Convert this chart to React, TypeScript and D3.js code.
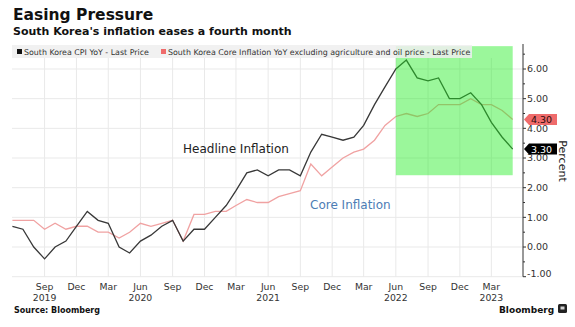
import React from "react";
import * as d3 from "d3";

const W = 575;
const H = 327;

// Monthly data Jun 2019 .. May 2023
const startMonth = new Date(2019, 5, 1);
const headlineCPI = [
  0.7, 0.6, 0.0, -0.4, 0.0, 0.2, 0.7,
  1.2, 0.9, 0.8, 0.0, -0.2, 0.2, 0.4, 0.7, 0.9, 0.2, 0.6, 0.6,
  1.0, 1.4, 1.9, 2.5, 2.6, 2.4, 2.6, 2.6, 2.4, 3.2, 3.8, 3.7,
  3.6, 3.7, 4.1, 4.8, 5.4, 6.0, 6.3, 5.7, 5.6, 5.7, 5.0, 5.0,
  5.2, 4.8, 4.2, 3.7, 3.3,
];
const coreInflation = [
  0.9, 0.9, 0.9, 0.6, 0.8, 0.6, 0.7,
  0.7, 0.5, 0.5, 0.3, 0.5, 0.8, 0.7, 0.8, 0.9, 0.2, 1.1, 1.1,
  1.2, 1.2, 1.4, 1.6, 1.5, 1.5, 1.7, 1.8, 1.9, 2.8, 2.4, 2.7,
  3.0, 3.2, 3.3, 3.6, 4.1, 4.4, 4.5, 4.4, 4.5, 4.8, 4.8, 4.8,
  5.0, 4.8, 4.8, 4.6, 4.3,
];
const yTicks = [-1, 0, 1, 2, 3, 4, 5, 6];
const yMinorTicks = [-0.5, 0.5, 1.5, 2.5, 3.5, 4.5, 5.5, 6.5];
const monthTickNames = ["Mar", "Jun", "Sep", "Dec"];
const yearLabels = [
  { label: "2019", date: new Date(2019, 8, 1) },
  { label: "2020", date: new Date(2020, 5, 1) },
  { label: "2021", date: new Date(2021, 5, 1) },
  { label: "2022", date: new Date(2022, 5, 1) },
  { label: "2023", date: new Date(2023, 2, 1) },
];
const highlight = { from: new Date(2022, 5, 1), to: new Date(2023, 4, 1), low: 2.42, high: 6.77 };
const legendItems = [
  "South Korea CPI YoY - Last Price",
  "South Korea Core Inflation YoY excluding agriculture and oil price - Last Price",
];

const FONT = "'DejaVu Sans', Verdana, sans-serif";
const BLACK_LINE = "#383838";
const PINK_LINE = "#f0a2a2";
const PINK_TAG = "#ef6b6b";

export default function App() {
  const dates = headlineCPI.map((_, i) => d3.timeMonth.offset(startMonth, i));
  const x = d3
    .scaleTime()
    .domain([dates[0], dates[dates.length - 1]])
    .range([12.4, 512.7]);
  const y = d3.scaleLinear().domain([-1, 6]).range([276.7, 69]);
  const plotLeft = 12;
  const plotRight = 523;
  const plotTop = 44;
  const plotBottom = y(-1);

  const line = d3
    .line<number>()
    .x((_, i) => x(dates[i]))
    .y((v) => y(v));

  const monthTicks = d3
    .timeMonth.range(d3.timeMonth.offset(dates[0], 1), d3.timeMonth.offset(dates[dates.length - 1], 1))
    .filter((d) => d.getMonth() % 3 === 2);

  const lastCore = coreInflation[coreInflation.length - 1];
  const lastCPI = headlineCPI[headlineCPI.length - 1];

  const tag = (v: number, fill: string, textColor: string) => {
    const yy = y(v);
    const x0 = plotRight + 1;
    const p = `M${x0},${yy} L${x0 + 5},${yy - 5.5} L${x0 + 33},${yy - 5.5} L${x0 + 33},${yy + 5.5} L${x0 + 5},${yy + 5.5} Z`;
    return (
      <g>
        <path d={p} fill={fill} />
        <text x={x0 + 7} y={yy + 3.5} fontSize={9.5} fill={textColor} fontFamily={FONT}>
          {v.toFixed(2)}
        </text>
      </g>
    );
  };

  return (
    <svg
      width={W}
      height={H}
      style={{ position: "absolute", left: 0, top: 0, background: "#fff" }}
      fontFamily={FONT}
    >
      <rect x={0} y={0} width={W} height={H} fill="#fff" />
      {/* Titles */}
      <text x={13} y={19.5} fontSize={15.5} fontWeight="bold" fill="#111">
        Easing Pressure
      </text>
      <text x={13} y={35} fontSize={11} fontWeight="bold" fill="#111">
        South Korea's inflation eases a fourth month
      </text>

      {/* Gridlines */}
      {yTicks.map((t) => (
        <line key={"hg" + t} x1={plotLeft} x2={plotRight} y1={y(t)} y2={y(t)} stroke="#e9e9e9" strokeWidth={1} />
      ))}
      {monthTicks.map((d) => (
        <line key={"vg" + d.getTime()} x1={x(d)} x2={x(d)} y1={plotTop + 14} y2={plotBottom} stroke="#e9e9e9" strokeWidth={1} />
      ))}

      {/* Lines */}
      <path d={line(coreInflation) || ""} fill="none" stroke={PINK_LINE} strokeWidth={1.3} />
      <path d={line(headlineCPI) || ""} fill="none" stroke={BLACK_LINE} strokeWidth={1.3} />

      {/* Highlight */}
      <rect
        x={x(highlight.from)}
        y={y(highlight.high)}
        width={x(highlight.to) - x(highlight.from)}
        height={y(highlight.low) - y(highlight.high)}
        fill="#22ee22"
        opacity={0.45}
      />

      {/* Legend */}
      <rect x={12} y={45} width={460} height={13} fill="#efefef" opacity={0.85} />
      <rect x={17} y={49} width={5} height={5} fill="#111" />
      <text x={24} y={54.5} fontSize={7.9} fill="#333">
        {legendItems[0]}
      </text>
      <rect x={161} y={49} width={5} height={5} fill={PINK_TAG} />
      <text x={168} y={54.5} fontSize={7.9} fill="#333">
        {legendItems[1]}
      </text>

      {/* Annotations */}
      <text x={183} y={153} fontSize={12} fill="#222">
        Headline Inflation
      </text>
      <text x={310} y={208.5} fontSize={12} fill="#4d7db5">
        Core Inflation
      </text>

      {/* Right axis */}
      <line x1={plotRight} x2={plotRight} y1={plotTop} y2={plotBottom} stroke="#333" strokeWidth={1} />
      {yTicks.map((t) => (
        <g key={"yt" + t}>
          <line x1={plotRight} x2={plotRight + 3} y1={y(t)} y2={y(t)} stroke="#333" />
          <text
            x={plotRight + 4}
            y={t === -1 ? y(t) : y(t) + 3.4}
            fontSize={9.5}
            fill="#333"
          >
            {t.toFixed(2)}
          </text>
        </g>
      ))}
      {yMinorTicks.map((t) => (
        <line key={"ym" + t} x1={plotRight} x2={plotRight + 2} y1={y(t)} y2={y(t)} stroke="#333" />
      ))}
      {tag(lastCore, PINK_TAG, "#2a0a0a")}
      {tag(lastCPI, "#000", "#fff")}
      <text
        transform={`translate(${559},${161}) rotate(90)`}
        textAnchor="middle"
        fontSize={11}
        fill="#222"
      >
        Percent
      </text>

      {/* X axis labels */}
      {monthTicks.map((d) => (
        <text key={"xl" + d.getTime()} x={x(d)} y={289.5} textAnchor="middle" fontSize={9.3} fill="#333">
          {monthTickNames[Math.floor(d.getMonth() / 3)]}
        </text>
      ))}
      {yearLabels.map((yl) => (
        <text key={yl.label} x={x(yl.date)} y={300.5} textAnchor="middle" fontSize={9.3} fill="#333">
          {yl.label}
        </text>
      ))}

      {/* Footer */}
      <text x={14} y={313} fontSize={8} fontWeight="bold" fill="#111">
        Source: Bloomberg
      </text>
      <text x={499} y={312.5} fontSize={9} fontWeight="bold" fill="#111">
        Bloomberg
      </text>
      <rect x={558} y={304} width={9} height={9} rx={1.5} fill="#222" />
      <rect x={560.5} y={306.5} width={4} height={3} fill="#fff" opacity={0.8} />
    </svg>
  );
}
